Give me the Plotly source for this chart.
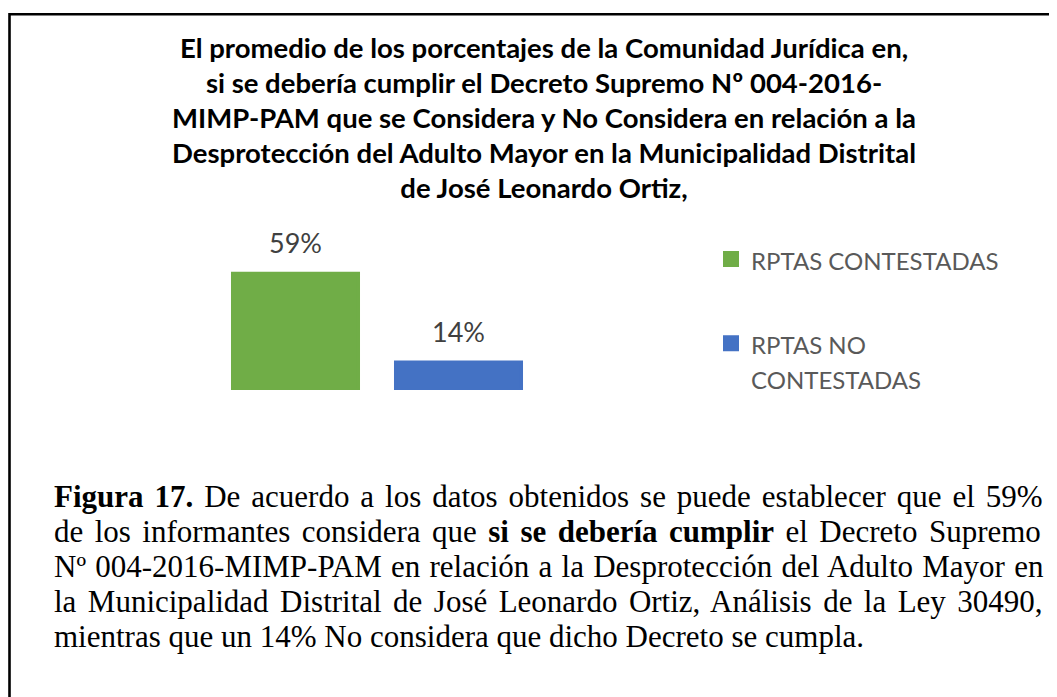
import plotly.graph_objects as go

# figure size (page body adds an 8px margin around the figure)
W, H = 1049, 689
OFF = 8

categories = ["RPTAS CONTESTADAS", "RPTAS NO CONTESTADAS"]
legend_names = ["RPTAS CONTESTADAS", "RPTAS NO<br>CONTESTADAS"]
values = [59, 14]
value_labels = ["59%", "14%"]
colors = ["#70AD47", "#4472C4"]

title_lines = [
    "El promedio de los porcentajes de la Comunidad Jurídica en,",
    "si se debería cumplir el Decreto Supremo Nº 004-2016-",
    "MIMP-PAM que se Considera y No Considera en relación a la",
    "Desprotección del Adulto Mayor en la Municipalidad Distrital",
    "de José Leonardo Ortiz,",
]

caption_lines = [
    "<b>Figura 17.</b> De acuerdo a los datos obtenidos se puede establecer que el 59%",
    "de los informantes considera que <b>si se debería cumplir</b> el Decreto Supremo",
    "Nº 004-2016-MIMP-PAM en relación a la Desprotección del Adulto Mayor en",
    "la Municipalidad Distrital de José Leonardo Ortiz, Análisis de la Ley 30490,",
    "mientras que un 14% No considera que dicho Decreto se cumpla.",
]
# extra word spacing (px) to imitate the justified paragraph
caption_word_spacing = [3.2, 3.7, 1.5, 3.7, 0]


def px(x):
    return (x - OFF) / W


def py(y):
    return 1 - (y - OFF) / H


fig = go.Figure()
for i, (cat, name, val, col) in enumerate(zip(categories, legend_names, values, colors)):
    fig.add_trace(go.Bar(
        x=[cat], y=[val],
        name=f"<span style='font-size:24px'>{name}</span>",
        legendgroup=f"g{i}",
        marker=dict(color=col, line=dict(color=col, width=4)),
        hoverinfo="skip",
    ))
    fig.add_annotation(
        x=cat, y=val, xref="x", yref="y", text=value_labels[i],
        showarrow=False, yanchor="middle", yshift=31,
        font=dict(family="Lato", size=27, color="#404040"),
    )

title_txt = "<br>".join(f"<span style='font-size:27.5px'>{t}</span>" for t in title_lines)
caption_txt = "<br>".join(
    f"<span style='font-size:31px; word-spacing:{ws}px'>{t}</span>"
    for t, ws in zip(caption_lines, caption_word_spacing)
)

fig.add_annotation(
    x=px(544), y=py(117.5), xref="paper", yref="paper", text=title_txt,
    showarrow=False, xanchor="center", yanchor="middle", align="center",
    font=dict(family="Lato", size=27, color="#000000", weight="bold"),
)
fig.add_annotation(
    x=px(52), y=py(566.5), xref="paper", yref="paper", text=caption_txt,
    showarrow=False, xanchor="left", yanchor="middle", align="left",
    font=dict(family="Liberation Serif", size=27, color="#000000"),
)

fig.add_shape(
    type="path", xref="paper", yref="paper",
    path=f"M {px(9.5)},{py(720)} L {px(9.5)},{py(14.2)} L {px(1080)},{py(14.2)}",
    line=dict(color="#000000", width=2.6),
)

fig.update_layout(
    width=W, height=H,
    margin=dict(l=0, r=0, t=0, b=0),
    paper_bgcolor="white", plot_bgcolor="white",
    barmode="overlay", bargap=0.233,
    showlegend=True,
    legend=dict(
        x=px(711), y=py(235), xanchor="left", yanchor="top",
        traceorder="grouped", tracegroupgap=46, valign="top",
        font=dict(family="Lato", size=27, color="#595959"),
        bgcolor="rgba(0,0,0,0)",
    ),
    xaxis=dict(domain=[px(214), px(540)], range=[-0.5, 1.5], showticklabels=False,
               showgrid=False, zeroline=False, showline=False, ticks=""),
    yaxis=dict(domain=[py(390), py(252)], range=[0, 70], showticklabels=False,
               showgrid=False, zeroline=False, showline=False, ticks=""),
    hovermode=False,
)

fig.write_html("out.html")
